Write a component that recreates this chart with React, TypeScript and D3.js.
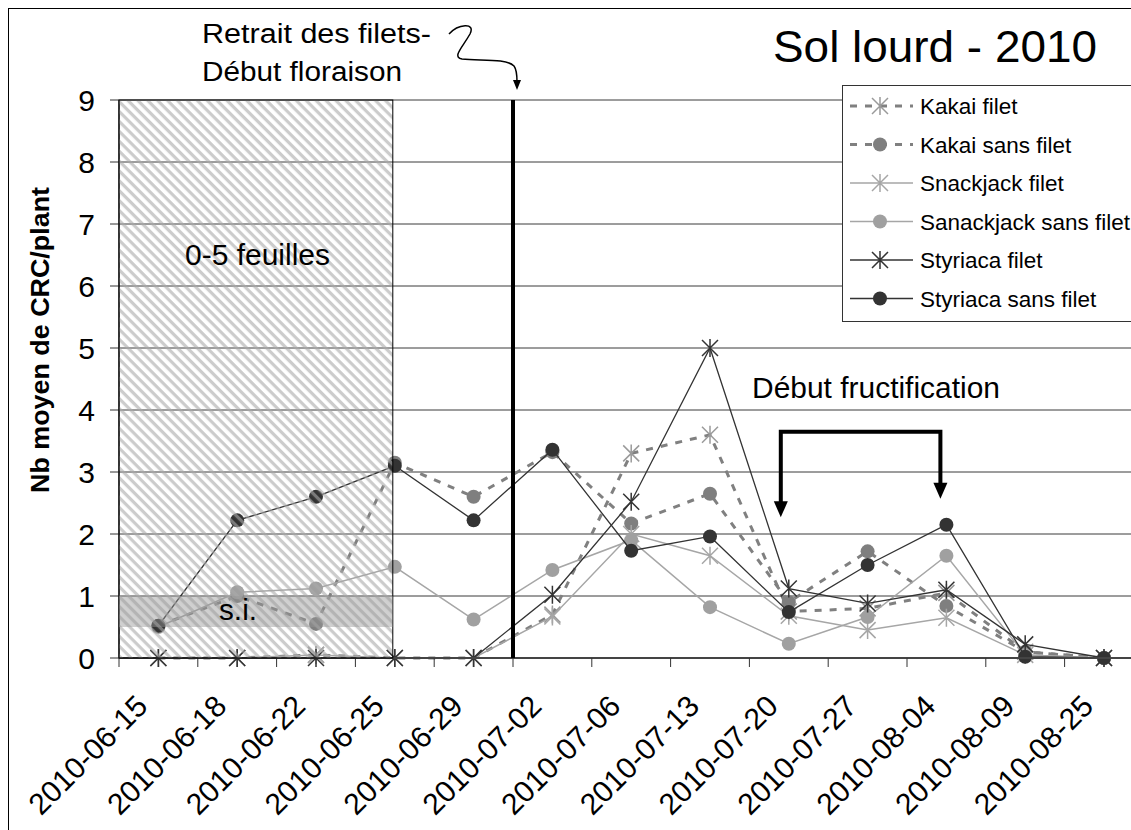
import React from 'react';
import * as d3 from 'd3';

// categories (sampling dates)
const dates = [
  '2010-06-15', '2010-06-18', '2010-06-22', '2010-06-25', '2010-06-29', '2010-07-02',
  '2010-07-06', '2010-07-13', '2010-07-20', '2010-07-27', '2010-08-04', '2010-08-09', '2010-08-25',
];

// mean number of CRC per plant
const kakaiFilet = [0, 0, 0.05, 0, 0, 0.7, 3.3, 3.6, 0.75, 0.8, 1.05, 0.1, 0];
const kakaiSansFilet = [0.52, 1.0, 0.55, 3.15, 2.6, 3.32, 2.17, 2.65, 0.9, 1.72, 0.84, 0.1, 0];
const snackjackFilet = [0, 0, 0.05, 0, 0, 0.67, 2.0, 1.65, 0.68, 0.45, 0.65, 0.05, 0];
const snackjackSansFilet = [0.5, 1.06, 1.12, 1.47, 0.62, 1.42, 1.9, 0.82, 0.23, 0.66, 1.65, 0.05, 0];
const styriacaFilet = [0, 0, 0, 0, 0, 1.02, 2.52, 5.0, 1.12, 0.88, 1.1, 0.22, 0];
const styriacaSansFilet = [0.52, 2.22, 2.6, 3.1, 2.22, 3.36, 1.73, 1.96, 0.74, 1.5, 2.15, 0.02, 0];

const yTicks = [0, 1, 2, 3, 4, 5, 6, 7, 8, 9];

type Series = {
  name: string;
  values: number[];
  lineColor: string;
  markerColor: string;
  marker: 'star' | 'circle';
  dashed: boolean;
  width: number;
};

const series: Series[] = [
  { name: 'Kakai filet', values: kakaiFilet, lineColor: '#808080', markerColor: '#9a9a9a', marker: 'star', dashed: true, width: 3 },
  { name: 'Kakai sans filet', values: kakaiSansFilet, lineColor: '#808080', markerColor: '#7f7f7f', marker: 'circle', dashed: true, width: 3 },
  { name: 'Snackjack filet', values: snackjackFilet, lineColor: '#a6a6a6', markerColor: '#a6a6a6', marker: 'star', dashed: false, width: 1.5 },
  { name: 'Sanackjack sans filet', values: snackjackSansFilet, lineColor: '#a6a6a6', markerColor: '#a0a0a0', marker: 'circle', dashed: false, width: 1.5 },
  { name: 'Styriaca filet', values: styriacaFilet, lineColor: '#333333', markerColor: '#333333', marker: 'star', dashed: false, width: 1.3 },
  { name: 'Styriaca sans filet', values: styriacaSansFilet, lineColor: '#333333', markerColor: '#333333', marker: 'circle', dashed: false, width: 1.3 },
];

const FONT = '"Liberation Sans", Arial, sans-serif';

const Marker: React.FC<{ s: Series; x: number; y: number }> = ({ s, x, y }) => {
  if (s.marker === 'circle') {
    return <circle cx={x} cy={y} r={7} fill={s.markerColor} />;
  }
  const a = 8;
  return (
    <path
      d={`M${x - a},${y - a}L${x + a},${y + a}M${x - a},${y + a}L${x + a},${y - a}M${x},${y - a - 1}L${x},${y + a + 1}`}
      stroke={s.markerColor}
      strokeWidth={1.5}
      fill="none"
    />
  );
};

export default function App() {
  const width = 1131;
  const height = 830;
  const left = 119;
  const top = 100;
  const bottom = 658;
  const right = left + 13 * 78.8;

  const x = d3.scaleBand<string>().domain(dates).range([left, right]).padding(0);
  const xc = (d: string) => (x(d) as number) + x.bandwidth() / 2;
  const y = d3.scaleLinear().domain([0, 9]).range([bottom, top]);

  const line = d3
    .line<number>()
    .x((_, i) => xc(dates[i]))
    .y((v) => y(v));

  const hatchRight = xc('2010-06-25') - 2;
  const floweringX = x('2010-07-02') as number;
  const brL = xc('2010-07-20') - 8;
  const brR = xc('2010-08-04') - 6;
  const brTop = y(3.65);
  const tipL = y(2.27);
  const tipR = y(2.57);

  return (
    <svg
      width={width}
      height={height}
      style={{ position: 'absolute', left: 0, top: 0, background: '#fff', overflow: 'hidden' }}
      fontFamily={FONT}
    >
      <defs>
        <pattern id="hatch" width="7" height="7" patternUnits="userSpaceOnUse" patternTransform="rotate(45)">
          <rect x="0" y="0" width="7" height="3.2" fill="rgba(170,170,170,0.6)" />
        </pattern>
      </defs>

      {/* outer chart frame */}
      <rect x={8.5} y={8.5} width={1400} height={1000} fill="none" stroke="#000" strokeWidth={1} />

      {/* gridlines */}
      {yTicks.slice(1).map((t) => (
        <line key={t} x1={left} x2={right} y1={y(t)} y2={y(t)} stroke="#3a3a3a" strokeWidth={1} />
      ))}

      {/* y axis */}
      <line x1={left} x2={left} y1={top} y2={bottom} stroke="#333" strokeWidth={1.5} />
      {yTicks.map((t) => (
        <g key={t}>
          <line x1={left - 9} x2={left} y1={y(t)} y2={y(t)} stroke="#333" strokeWidth={1} />
          <text x={95} y={y(t) + 11} textAnchor="end" fontSize={30} fill="#000">
            {t}
          </text>
        </g>
      ))}
      <text
        transform={`translate(49,340) rotate(-90)`}
        textAnchor="middle"
        fontSize={26}
        fontWeight="bold"
        fill="#000"
        textLength={306}
        lengthAdjust="spacingAndGlyphs"
      >
        Nb moyen de CRC/plant
      </text>

      {/* series */}
      {series.map((s) => (
        <g key={s.name}>
          <path
            d={line(s.values) || ''}
            fill="none"
            stroke={s.lineColor}
            strokeWidth={s.width}
            strokeDasharray={s.dashed ? '7,8' : undefined}
          />
          {s.values.map((v, i) => (
            <Marker key={i} s={s} x={xc(dates[i])} y={y(v)} />
          ))}
        </g>
      ))}

      {/* x axis */}
      <line x1={left} x2={right} y1={bottom} y2={bottom} stroke="#444" strokeWidth={2} />
      {dates.map((d) => (
        <line key={d} x1={x(d) as number} x2={x(d) as number} y1={bottom} y2={bottom + 9} stroke="#333" strokeWidth={1} />
      ))}
      {dates.map((d) => (
        <text
          key={d}
          transform={`translate(${xc(d) - 9},${708}) rotate(-45)`}
          textAnchor="end"
          fontSize={30}
          fill="#000"
        >
          {d}
        </text>
      ))}

      {/* 0-5 leaves hatched zone and s.i. band */}
      <rect x={left} y={top} width={hatchRight - left} height={bottom - top} fill="url(#hatch)" stroke="#000" strokeWidth={1} />
      <rect x={left} y={y(1)} width={hatchRight - left} height={y(0.5) - y(1)} fill="rgba(150,150,150,0.45)" />
      <text x={185} y={265} fontSize={29} fill="#000" textLength={145} lengthAdjust="spacingAndGlyphs">
        0-5 feuilles
      </text>
      <text x={219} y={620} fontSize={29} fill="#000" textLength={38} lengthAdjust="spacingAndGlyphs">
        s.i.
      </text>

      {/* flowering line */}
      <line x1={floweringX} x2={floweringX} y1={top} y2={bottom} stroke="#000" strokeWidth={4} />
      <text x={202} y={43} fontSize={27} fill="#000" textLength={229} lengthAdjust="spacingAndGlyphs">
        Retrait des filets-
      </text>
      <text x={202} y={81} fontSize={27} fill="#000" textLength={200} lengthAdjust="spacingAndGlyphs">
        Début floraison
      </text>
      <path
        d="M449,34 C458,24 476,22 470,34 C462,48 452,57 462,59 C480,61 506,58 514,66 C517,70 517,76 517,82"
        fill="none"
        stroke="#000"
        strokeWidth={1.5}
      />
      <path d="M513,80 L517,90 L521,80 Z" fill="#000" />

      {/* fruiting bracket */}
      <text x={752} y={398} fontSize={29} fill="#000" textLength={248} lengthAdjust="spacingAndGlyphs">
        Début fructification
      </text>
      <path d={`M${brL},${tipL - 14} V${brTop} H${brR} V${tipR - 14}`} fill="none" stroke="#000" strokeWidth={4} />
      <path d={`M${brL - 7},${tipL - 16} L${brL},${tipL} L${brL + 7},${tipL - 16} Z`} fill="#000" />
      <path d={`M${brR - 7},${tipR - 16} L${brR},${tipR} L${brR + 7},${tipR - 16} Z`} fill="#000" />

      {/* title */}
      <text x={773} y={62} fontSize={44} fill="#000" textLength={324} lengthAdjust="spacingAndGlyphs">
        Sol lourd - 2010
      </text>

      {/* legend */}
      <g>
        <rect x={842.5} y={85.5} width={400} height={236} fill="#fff" stroke="#333" strokeWidth={1} />
        {series.map((s, i) => {
          const ly = 106 + i * 38.5;
          return (
            <g key={s.name}>
              <line
                x1={850}
                x2={913}
                y1={ly}
                y2={ly}
                stroke={s.lineColor}
                strokeWidth={s.dashed ? 3 : s.width}
                strokeDasharray={s.dashed ? '7,8' : undefined}
              />
              <Marker s={s} x={880} y={ly} />
              <text x={920} y={ly + 8} fontSize={22.5} fill="#000">
                {s.name}
              </text>
            </g>
          );
        })}
      </g>
    </svg>
  );
}
